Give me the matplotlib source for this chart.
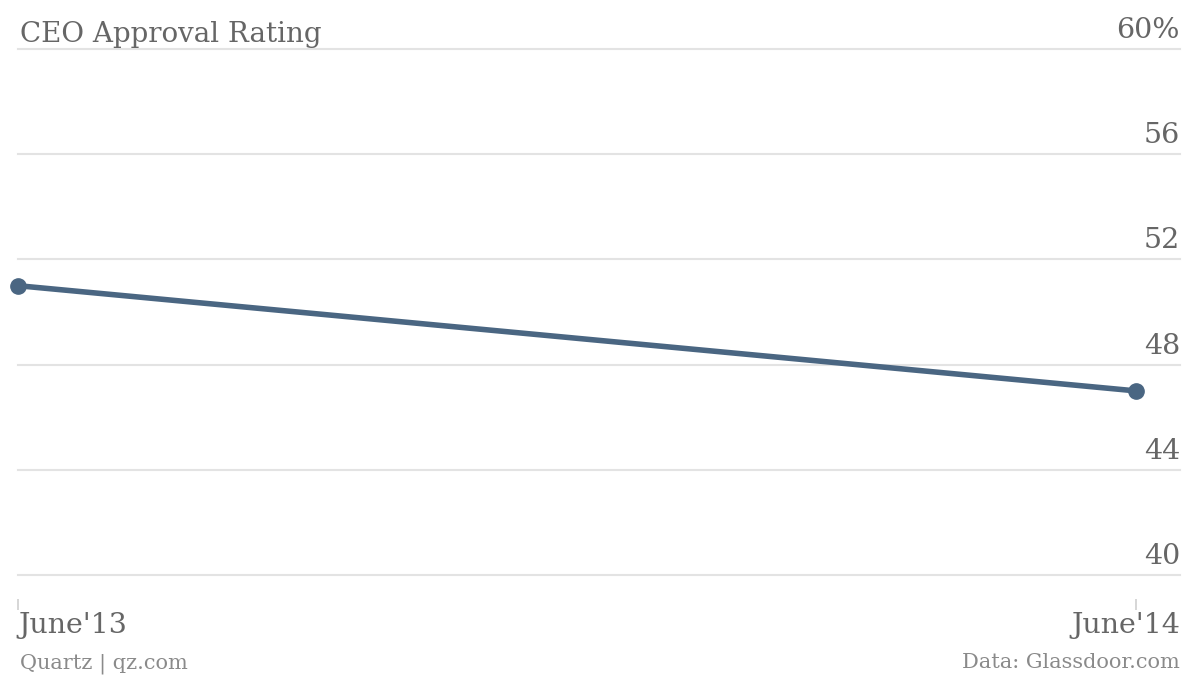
import matplotlib.pyplot as plt
from matplotlib import transforms

# data
periods = ["June'13", "June'14"]
approval = [51, 47]
y_ticks = [40, 44, 48, 52, 56, 60]
y_labels = ["40", "44", "48", "52", "56", "60%"]

line_color = "#4a6682"
text_color = "#666666"
foot_color = "#8a8a8a"
grid_color = "#e3e3e3"
font = "DejaVu Serif"

fig = plt.figure(figsize=(12, 6.76), dpi=100)
ax = fig.add_axes([18 / 1200, 101 / 676, 1162 / 1200, 526 / 676])

x = list(range(len(periods)))
ax.plot(x, approval, color=line_color, lw=4, marker="o", ms=11,
        clip_on=False, zorder=3, solid_capstyle="round")

ax.set_xlim(0, 1 + 44 / 1118)
ax.set_ylim(40, 60)

# gridlines
for v in y_ticks:
    ax.axhline(v, color=grid_color, lw=1.5, zorder=1, clip_on=False)

# y labels sit above the gridlines on the right
off = transforms.offset_copy(ax.get_yaxis_transform(), fig=fig, x=0, y=5, units="dots")
for v, lab in zip(y_ticks, y_labels):
    ax.text(1.0, v, lab, transform=off, ha="right", va="bottom",
            fontsize=20.5, color=text_color, family=font)

for s in ax.spines.values():
    s.set_visible(False)
ax.spines["bottom"].set_position(("outward", 17))
ax.set_yticks([])
ax.set_xticks(x)
ax.set_xticklabels([])
ax.tick_params(axis="x", direction="out", length=8, width=1.2, color="#cfcfcf")

# x labels
ax.text(0.0, -0.11, periods[0], transform=ax.transAxes, ha="left", va="baseline",
        fontsize=20.5, color=text_color, family=font)
ax.text(1.0, -0.11, periods[1], transform=ax.transAxes, ha="right", va="baseline",
        fontsize=20.5, color=text_color, family=font)

# title and footer
fig.text(20 / 1200, 1 - 42 / 676, "CEO Approval Rating", ha="left", va="baseline",
         fontsize=20, color=text_color, family=font)
fig.text(20 / 1200, 1 - 668 / 676, "Quartz | qz.com", ha="left", va="baseline",
         fontsize=15, color=foot_color, family=font)
fig.text(1180 / 1200, 1 - 668 / 676, "Data: Glassdoor.com", ha="right", va="baseline",
         fontsize=15, color=foot_color, family=font)

fig.savefig("out.png", dpi=100)
